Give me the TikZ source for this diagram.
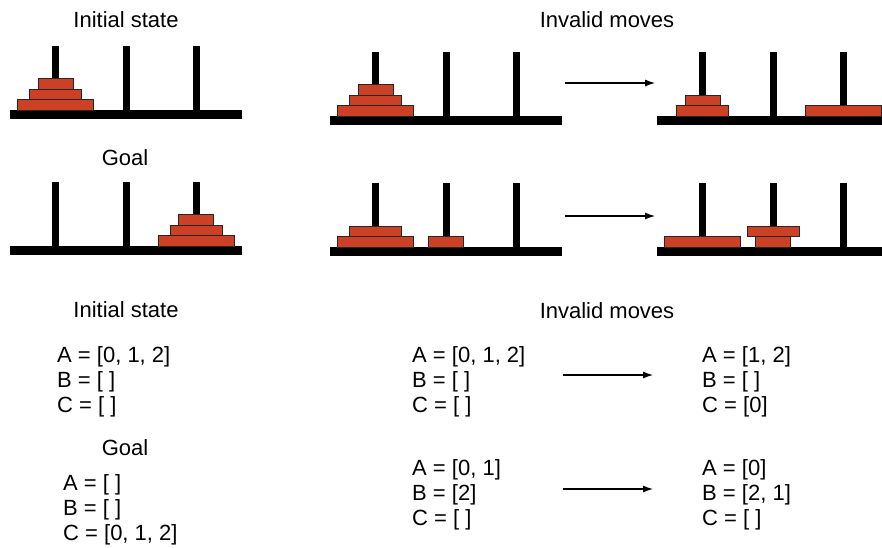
\documentclass[tikz,border=0pt]{standalone}
\usepackage{fontspec}
\setmainfont{Liberation Sans}
\usepackage{xcolor}
\usepackage{tikz}
\usetikzlibrary{arrows,arrows.meta,calc,positioning}

\definecolor{diskred}{RGB}{204,65,37}

\tikzset{
  towerbase/.style={fill=black, inner sep=0pt, minimum width=232pt, minimum height=8.5pt, anchor=north west},
  peg/.style={fill=black, inner sep=0pt, minimum width=7pt, minimum height=64pt, anchor=south},
  disk/.style={draw=black!85, fill=diskred, line width=0.6pt, inner sep=0pt, outer sep=0pt, minimum height=10.5pt, anchor=south},
  largedisk/.style={disk, minimum width=76pt},
  middisk/.style={disk, minimum width=52pt},
  smalldisk/.style={disk, minimum width=35pt},
  title/.style={font=\fontsize{22}{26}\selectfont, inner sep=0pt, anchor=base},
  lists/.style={font=\fontsize{22}{25}\selectfont, inner sep=0pt, align=left, anchor=north west},
  move/.style={->, line width=1.1pt},
}

% one board: base plus three pegs (#1a, #1b, #1c)
\newcommand{\hanoi}[2]{%
  \node[towerbase] (#1) at (#2) {};
  \foreach \p/\dx in {a/45.5, b/116, c/186}
    \node[peg] (#1\p) at ($(#1.north west)+(\dx,0)$) {};
}

\begin{document}
\begin{tikzpicture}[x=1pt, y=-1pt, >={Latex[length=10pt,width=7pt]}]
  \clip (0,0) rectangle (882,547);

  % pictures
  \node[title] (init) at (126,27) {Initial state};
  \node[title] (invalid) at (607,27) {Invalid moves};
  \node[title] (goal) at (125,165) {Goal};

  \hanoi{t1}{10,110}
  \node[largedisk] (t1d1) at (t1a.south) {};
  \node[middisk] (t1d2) [above=0pt of t1d1] {};
  \node[smalldisk] (t1d3) [above=0pt of t1d2] {};

  \hanoi{t2}{330,116}
  \node[largedisk] (t2d1) at (t2a.south) {};
  \node[middisk] (t2d2) [above=0pt of t2d1] {};
  \node[smalldisk] (t2d3) [above=0pt of t2d2] {};

  \hanoi{t3}{657,116}
  \node[middisk] (t3d1) at (t3a.south) {};
  \node[smalldisk] (t3d2) [above=0pt of t3d1] {};
  \node[largedisk] (t3d3) at (t3c.south) {};

  \hanoi{t4}{10,246}
  \node[largedisk] (t4d1) at (t4c.south) {};
  \node[middisk] (t4d2) [above=0pt of t4d1] {};
  \node[smalldisk] (t4d3) [above=0pt of t4d2] {};

  \hanoi{t5}{330,247}
  \node[largedisk] (t5d1) at (t5a.south) {};
  \node[middisk] (t5d2) [above=0pt of t5d1] {};
  \node[smalldisk] (t5d3) at (t5b.south) {};

  \hanoi{t6}{657,247}
  \node[largedisk] (t6d1) at (t6a.south) {};
  \node[smalldisk] (t6d2) at (t6b.south) {};
  \node[middisk] (t6d3) [above=0pt of t6d2] {};

  \coordinate (m1a) at (565,83);
  \coordinate (m1b) at (655,83);
  \coordinate (m2a) at (565,216);
  \coordinate (m2b) at (655,216);
  \draw[move] (m1a) -- (m1b);
  \draw[move] (m2a) -- (m2b);

  % lists
  \node[title] (init2) at (126,317) {Initial state};
  \node[title] (invalid2) at (607,318) {Invalid moves};
  \node[title] (goal2) at (125,455) {Goal};

  \node[lists] (s0) at (57,346) {A = [0, 1, 2]\\B = [ ]\\C = [ ]};
  \node[lists] (g0) at (63,474) {A = [ ]\\B = [ ]\\C = [0, 1, 2]};
  \node[lists] (b1) at (412,346) {A = [0, 1, 2]\\B = [ ]\\C = [ ]};
  \node[lists] (a1) at (702,346) {A = [1, 2]\\B = [ ]\\C = [0]};
  \node[lists] (b2) at (412,459) {A = [0, 1]\\B = [2]\\C = [ ]};
  \node[lists] (a2) at (702,459) {A = [0]\\B = [2, 1]\\C = [ ]};

  \coordinate (l1a) at (563,375);
  \coordinate (l1b) at (653,375);
  \coordinate (l2a) at (563,489);
  \coordinate (l2b) at (653,489);
  \draw[move] (l1a) -- (l1b);
  \draw[move] (l2a) -- (l2b);
\end{tikzpicture}
\end{document}
